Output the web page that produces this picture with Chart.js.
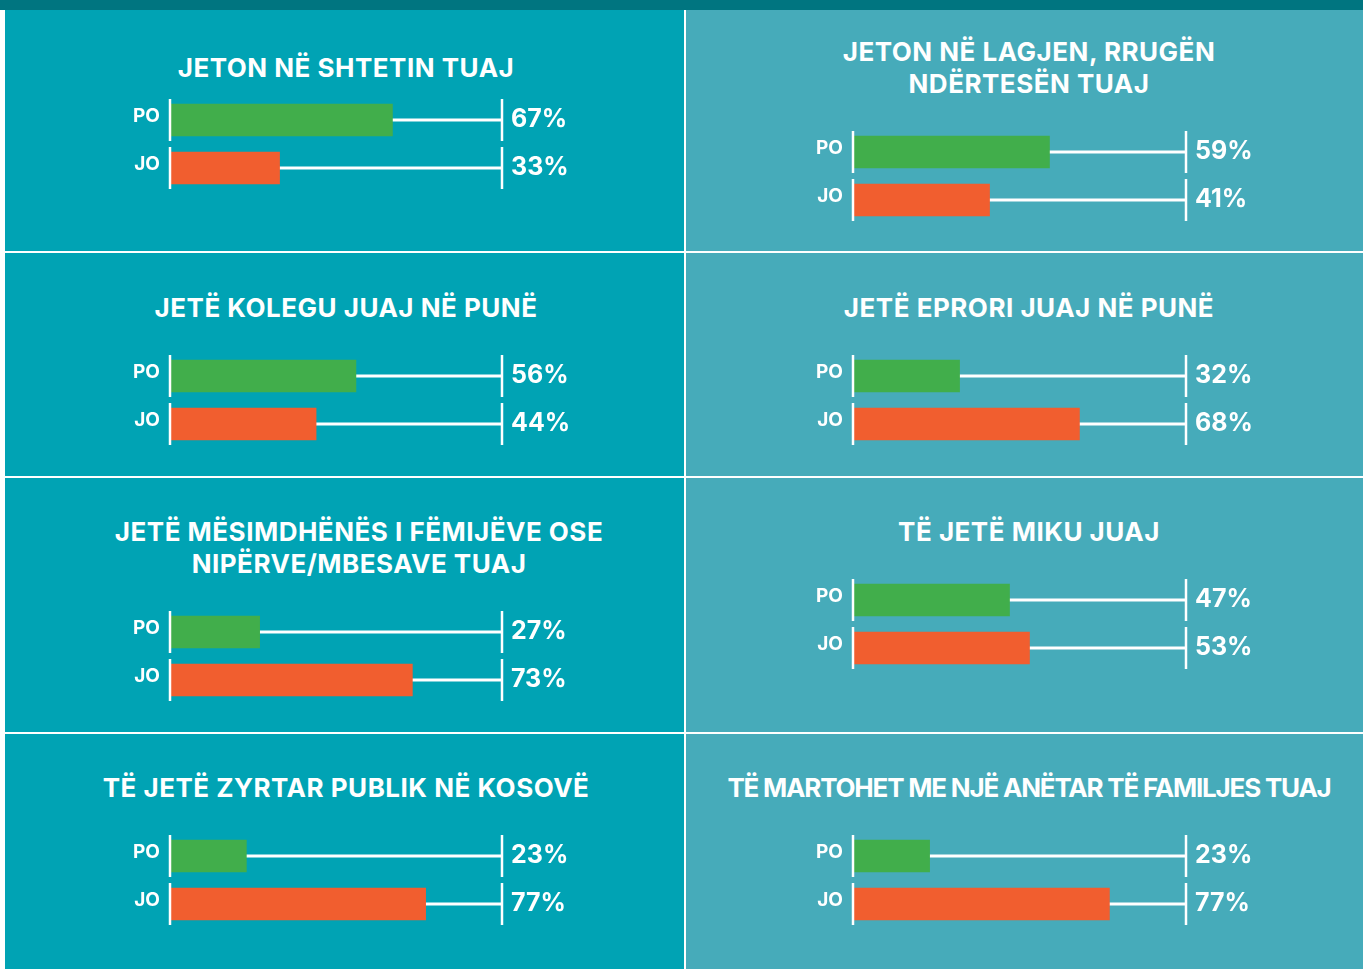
<!DOCTYPE html>
<html><head><meta charset="utf-8">
<script src="https://cdn.jsdelivr.net/npm/chart.js@4.4.1/dist/chart.umd.min.js"></script>
<style>
html,body{margin:0;padding:0;background:#fff;width:1363px;height:969px;overflow:hidden;position:relative;}
#topbar{position:absolute;left:0;top:0;width:1363px;height:10px;background:#007580;}
.panel{position:absolute;overflow:hidden;}
.title{position:absolute;text-align:center;color:#fff;font-family:"Inter";font-weight:700;font-size:26px;line-height:32px;white-space:pre-line;}
canvas{position:absolute;}
</style></head><body>
<div id="topbar"></div>
<script>
// ---- data ----
const categories = ['PO', 'JO'];
const titles = [
  'JETON NË SHTETIN TUAJ',
  'JETON NË LAGJEN, RRUGËN\nNDËRTESËN TUAJ',
  'JETË KOLEGU JUAJ NË PUNË',
  'JETË EPRORI JUAJ NË PUNË',
  'JETË MËSIMDHËNËS I FËMIJËVE OSE\nNIPËRVE/MBESAVE TUAJ',
  'TË JETË MIKU JUAJ',
  'TË JETË ZYRTAR PUBLIK NË KOSOVË',
  'TË MARTOHET ME NJË ANËTAR TË FAMILJES TUAJ'
];
const poValues = [67, 59, 56, 32, 27, 47, 23, 23];
const joValues = [33, 41, 44, 68, 73, 53, 77, 77];

// ---- layout ----
const GREEN = '#41ae4b', ORANGE = '#f15e2f';
const FONT = 'Inter';
const cols = [
  {x: 5, w: 679, bg: '#00a3b4', axisW: 165, rightPad: 182, titleCx: 341},
  {x: 686, w: 677, bg: '#46abba', axisW: 167, rightPad: 177, titleCx: 343}
];
const rows = [{y: 10, h: 241}, {y: 253, h: 223}, {y: 478, h: 254}, {y: 734, h: 235}];
const poCenters = [120, 152, 376, 376, 632, 600, 856, 856];
const titleCapCenters = [68, 52, 308, 308, 532, 532, 788, 788];
const titleShiftX = [0, 0, 0, 0, 13, 0, 0, 0];
const titleSpacing = [0.5, 0.5, 0.5, 0.5, 0.5, 0.5, 0.5, -1.2];

const trackPlugin = {
  id: 'track',
  beforeDatasetsDraw(chart) {
    const {ctx, scales: {x, y}} = chart;
    const x0 = x.getPixelForValue(0), x1 = x.getPixelForValue(100);
    ctx.save();
    ctx.strokeStyle = '#fff'; ctx.lineWidth = 3;
    categories.forEach((c, i) => {
      const yy = y.getPixelForValue(i);
      ctx.beginPath(); ctx.moveTo(x0, yy); ctx.lineTo(x1, yy); ctx.stroke();
    });
    ctx.restore();
  },
  afterDatasetsDraw(chart) {
    const {ctx, scales: {x, y}} = chart;
    const x0 = x.getPixelForValue(0), x1 = x.getPixelForValue(100);
    const data = chart.data.datasets[0].data;
    ctx.save();
    ctx.strokeStyle = '#fff'; ctx.lineWidth = 2.5;
    categories.forEach((c, i) => {
      const yy = y.getPixelForValue(i);
      [x0, x1].forEach(xx => {
        ctx.beginPath(); ctx.moveTo(xx, yy - 21); ctx.lineTo(xx, yy + 21); ctx.stroke();
      });
      ctx.fillStyle = '#fff';
      ctx.font = 'bold 25px ' + FONT;
      ctx.textAlign = 'left'; ctx.textBaseline = 'middle';
      ctx.fillText(data[i] + '%', x1 + 9, yy - 1);
    });
    ctx.restore();
  }
};

titles.forEach((t, i) => {
  const col = cols[i % 2], row = rows[Math.floor(i / 2)];
  const panel = document.createElement('div');
  panel.className = 'panel';
  Object.assign(panel.style, {left: col.x + 'px', top: row.y + 'px', width: col.w + 'px', height: row.h + 'px', background: col.bg});
  document.body.appendChild(panel);

  const title = document.createElement('div');
  title.className = 'title';
  title.textContent = t;
  title.style.left = (col.titleCx + titleShiftX[i] - 400) + 'px';
  title.style.width = '800px';
  title.style.top = (titleCapCenters[i] - 16 - row.y) + 'px';
  title.style.letterSpacing = titleSpacing[i] + 'px';
  panel.appendChild(title);

  const pad = 10;
  const canvas = document.createElement('canvas');
  canvas.width = col.w; canvas.height = 96 + 2 * pad;
  canvas.style.left = '0px';
  canvas.style.top = (poCenters[i] - 24 - pad - row.y) + 'px';
  panel.appendChild(canvas);

  new Chart(canvas, {
    type: 'bar',
    data: {labels: categories, datasets: [{data: [poValues[i], joValues[i]], backgroundColor: [GREEN, ORANGE], barThickness: 32, borderWidth: 0}]},
    options: {
      indexAxis: 'y', responsive: false, animation: false, devicePixelRatio: 1,
      layout: {padding: {left: 0, right: col.rightPad, top: pad, bottom: pad}},
      plugins: {legend: {display: false}, tooltip: {enabled: false}},
      scales: {
        x: {min: 0, max: 100, display: false},
        y: {
          grid: {display: false, drawTicks: false}, border: {display: false},
          ticks: {color: '#fff', padding: 10, labelOffset: -4, font: {family: FONT, size: 19, weight: 'bold'}},
          afterFit: s => { s.width = col.axisW; s.paddingTop = 0; s.paddingBottom = 0; }
        }
      }
    },
    plugins: [trackPlugin]
  });
});
</script>
</body></html>
